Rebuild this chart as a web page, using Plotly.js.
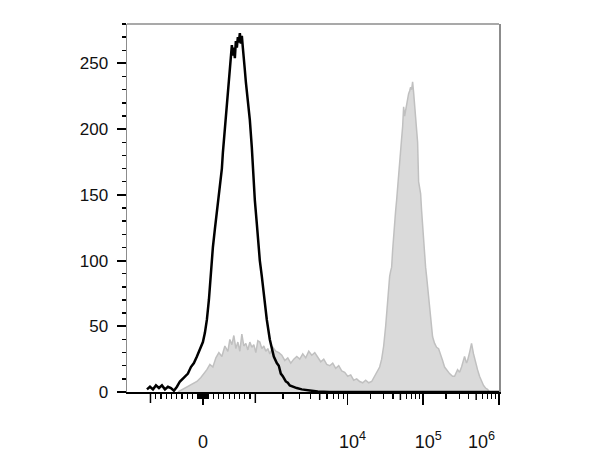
<!DOCTYPE html>
<html>
<head>
<meta charset="utf-8">
<script src="https://cdn.plot.ly/plotly-3.0.1.min.js"></script>
<style>html,body{margin:0;padding:0;background:#fff;}#chart{width:600px;height:462px;}</style>
</head>
<body>
<div id="chart"></div>
<script>
// x positions are display channels of the biexponential axis (0 .. 372.5)
const unstainedChannel = [20,23,26,29,32,35,38,41,44,47,50,53,57,61,64,67,70,73,76,78,80,82,84,86,88,90,92,93,95,96,98,100,102,103,104,105,106,107,108,109,110,111,112,113,114,115,116,117,118,119,120,122,123,125,126,128,130,131,133,135,137,138,140,143,145,147,150,152,154,156,159,161,163,166,170,175,180,185,191,203,250,300,372.5];
const unstainedCount   = [2,4,2,5,3,5,2,4,3,1,4,8,11,14,19,22,27,32,38,45,55,70,92,110,124,136,148,156,170,182,200,224,240,250,258,264,256,262,254,267,262,270,266,273,265,271,262,250,245,236,229,215,207,186,172,146,128,118,100,88,74,67,55,40,33,27,22,20,14,12,8,7,5,4,3,2,1.5,1,0.3,0,0,0,0];

const stainedChannel = [51,56,61,66,70,74,77,80,83,86,89,92,95,98,101,103,105,107,109,111,113,115,117,119,121,123,125,127,129,131,133,135,137,139,141,143,146,149,152,155,158,161,164,167,170,173,176,179,182,185,188,191,194,197,200,203,206,209,212,215,218,221,224,227,230,233,236,239,242,245,248,251,253,255,257,259,260,261,262,263,264,265,266,267,268,269,270,271,272,273,274,275,276,277,278,279,280,281,282,283,284,285,286,287,288,289,290,291,292,293,294,295,296,297,298,299,300,301,302,303,304,305,306,308,310,312,314,316,318,320,323,326,328,331,333,335,337,338,340,341,343,345,347,349,351,353,355,357,359,361,363];
const stainedCount   = [0,2,4,6,8,11,14,17,21,19,26,30,27,35,31,40,36,43,33,38,31,44,35,37,32,38,34,36,30,39,38,33,35,31,33,29,34,31,30,28,24,26,22,25,27,25,29,26,31,28,30,26,23,25,21,20,22,18,20,16,15,12,13,9,10,8,7,9,7,8,12,16,19,25,35,50,60,70,80,88,92,95,108,120,130,138,146,157,166,175,184,193,202,217,210,214,221,224,227,229,232,230,236,228,219,210,200,190,160,155,151,138,125,112,104,95,88,80,75,65,55,47,42,37,34,33,29,24,19,17,14,12,12,17,15,19,24,27,22,24,30,37,29,22,17,12,8,5,3,2,0];

// axis scale: fluorescence value -> display channel
function toChannel(v) {
  if (v <= 1000) return 76 + v * 0.0525;
  if (v <= 1e4) return 128.5 + 92.2 * Math.log10(v / 1000);
  return 220.7 + 75.9 * Math.log10(v / 1e4);
}
const labelValues = [0, 1e4, 1e5, 1e6];
const labelTexts = ['0', '\u00a0\u00a010<sup>4</sup>', '\u00a0\u00a010<sup>5</sup>', '10<sup>6</sup>\u00a0\u00a0\u00a0\u00a0\u00a0\u00a0\u00a0'];
const longUnlabeledValues = [-1000, 1000];
const mediumValues = [5e3, 5e4, 5e5];
const minorValues = [];
for (let k = 1; k <= 9; k++) { minorValues.push(-100 * k, -10 * k, 10 * k, 100 * k); }
for (let d of [1e3, 1e4, 1e5]) { for (let m of [2,3,4,6,7,8,9]) minorValues.push(m * d); }

const yTickValues = [0, 50, 100, 150, 200, 250];

const traces = [
  {x: stainedChannel, y: stainedCount, type: 'scatter', mode: 'lines', fill: 'tozeroy',
   fillcolor: '#dadada', line: {color: '#c0c0c0', width: 1.5}, hoverinfo: 'skip'},
  {x: unstainedChannel, y: unstainedCount, type: 'scatter', mode: 'lines',
   line: {color: '#000000', width: 2.5}, hoverinfo: 'skip'}
];

function tickShape(v, len) {
  return {type: 'line', xref: 'x', yref: 'paper', ysizemode: 'pixel', yanchor: 0,
    x0: toChannel(v), x1: toChannel(v), y0: 0, y1: -len,
    line: {color: '#000', width: 1.5}};
}
const shapes = mediumValues.map(v => tickShape(v, 8))
  .concat(longUnlabeledValues.map(v => tickShape(v, 11)));
shapes.push({type: 'line', xref: 'paper', yref: 'paper', x0: 0, x1: 1, y0: 1, y1: 1,
  line: {color: '#8c8c8c', width: 1.5}});

const layout = {
  width: 600, height: 462,
  margin: {l: 127, r: 101, t: 24, b: 70},
  paper_bgcolor: '#ffffff', plot_bgcolor: '#ffffff',
  showlegend: false,
  font: {family: 'Liberation Sans, Arial, sans-serif', color: '#111'},
  xaxis: {
    range: [0, 372.5], showgrid: false, zeroline: false,
    showline: true, linecolor: '#000', linewidth: 2,
    tickmode: 'array', tickvals: labelValues.map(toChannel), ticktext: labelTexts,
    ticks: 'outside', ticklen: 11, tickwidth: 1.5, tickcolor: '#000',
    ticklabelstandoff: 21,
    tickfont: {size: 18, color: '#111'},
    minor: {tickmode: 'array', tickvals: minorValues.map(toChannel), ticks: 'outside',
            ticklen: 5, tickwidth: 1.2, tickcolor: '#000', showgrid: false}
  },
  yaxis: {
    range: [0, 280], showgrid: false, zeroline: false,
    showline: true, linecolor: '#8c8c8c', linewidth: 1.5, mirror: true,
    tickmode: 'array', tickvals: yTickValues,
    ticks: 'outside', ticklen: 9, tickwidth: 2, tickcolor: '#000',
    ticklabelstandoff: 5,
    tickfont: {size: 17, color: '#111'},
    minor: {dtick: 10, tick0: 0, ticks: 'outside', ticklen: 4, tickwidth: 1.5, tickcolor: '#000', showgrid: false}
  },
  shapes: shapes
};

Plotly.newPlot('chart', traces, layout, {staticPlot: true, displayModeBar: false});
</script>
</body>
</html>
